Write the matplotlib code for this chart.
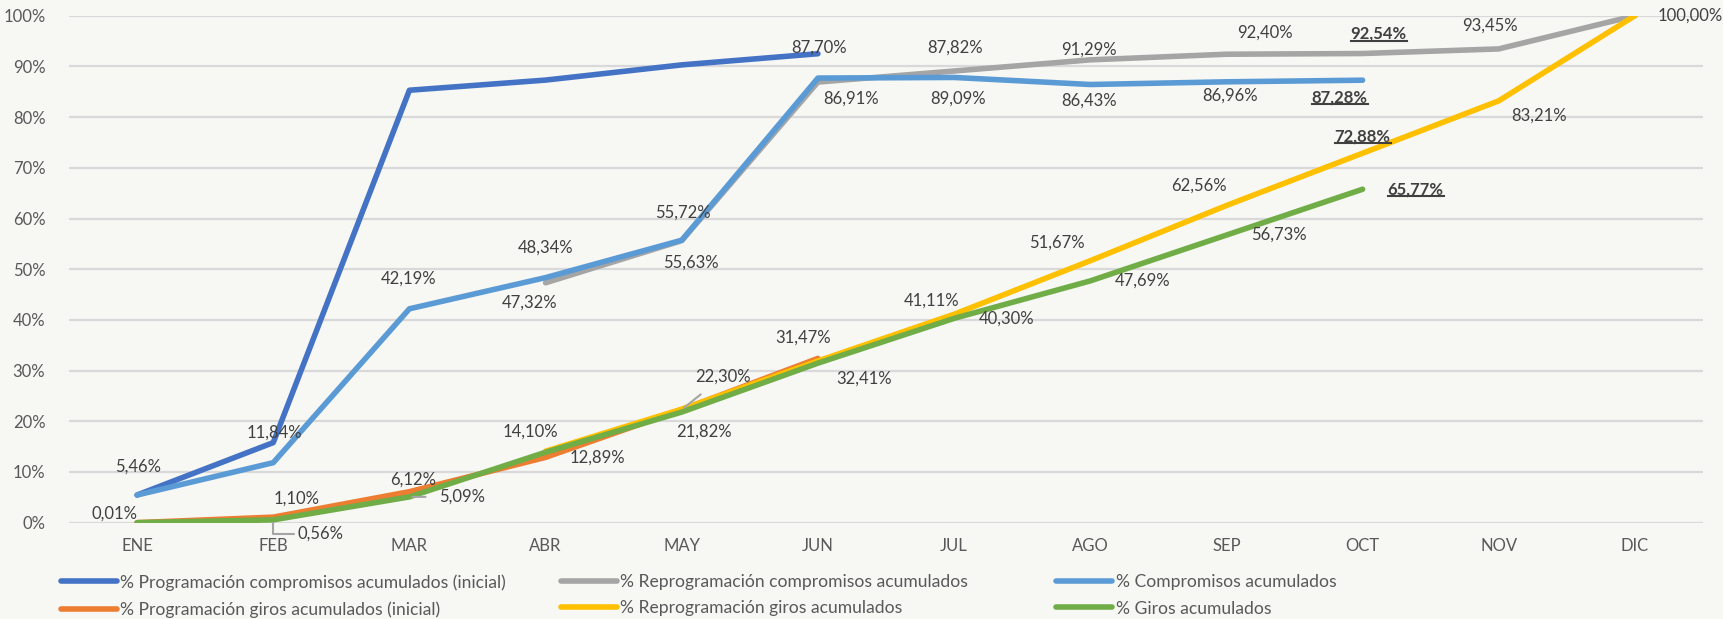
import numpy as np
import matplotlib
matplotlib.use("Agg")
import matplotlib.pyplot as plt
from matplotlib.lines import Line2D

plt.rcParams['font.family'] = ['Lato', 'DejaVu Sans']

meses = ["ENE", "FEB", "MAR", "ABR", "MAY", "JUN", "JUL", "AGO", "SEP", "OCT", "NOV", "DIC"]
nan = np.nan

prog_comp = [5.46, 15.8, 85.3, 87.3, 90.3, 92.5]
reprog_comp = [nan, nan, nan, 47.32, 55.63, 86.91, 89.09, 91.29, 92.40, 92.54, 93.45, 100.00]
comp = [5.46, 11.84, 42.19, 48.34, 55.72, 87.70, 87.82, 86.43, 86.96, 87.28]
prog_giros = [0.01, 1.10, 6.12, 12.89, 22.30, 32.41]
reprog_giros = [nan, nan, nan, 14.10, 22.40, 31.90, 41.11, 51.67, 62.56, 72.88, 83.21, 100.00]
giros = [0.01, 0.56, 5.09, 13.90, 21.82, 31.47, 40.30, 47.69, 56.73, 65.77]

series = [
    ("% Programación compromisos acumulados (inicial)", prog_comp, "#4472C4"),
    ("% Reprogramación compromisos acumulados", reprog_comp, "#A5A5A5"),
    ("% Compromisos acumulados", comp, "#5B9BD5"),
    ("% Programación giros acumulados (inicial)", prog_giros, "#ED7D31"),
    ("% Reprogramación giros acumulados", reprog_giros, "#FFC000"),
    ("% Giros acumulados", giros, "#70AD47"),
]

# data labels: (series index, month index, dx px, dy px, bold, leader)
etiquetas = [
    (2, 0, 1, 28, False, None), (2, 1, 1, 30, False, None), (2, 2, -1, 30, False, None),
    (2, 3, 0, 30, False, None), (2, 4, 1, 28, False, None), (2, 5, 1, 30, False, None),
    (2, 6, 1, 30, False, None), (2, 7, -1, -16, False, None), (2, 8, 4, -14, False, None),
    (2, 9, -23, -17, True, None),
    (1, 3, -16, -20, False, None), (1, 4, 9, -22, False, None), (1, 5, 33, -17, False, None),
    (1, 6, 4, -28, False, None), (1, 7, -1, 10, False, None), (1, 8, 39, 22, False, None),
    (1, 9, 16, 20, True, None), (1, 10, -9, 23, False, None), (1, 11, 55, 0, False, None),
    (3, 0, -23, 9, False, None), (3, 1, 23, 18, False, None), (3, 2, 4, 12, False, None),
    (3, 3, 52, 0, False, None), (3, 4, 41, 33, False, "line"), (3, 5, 46, -20, False, None),
    (4, 3, -15, 20, False, None), (4, 6, -23, 14, False, None), (4, 7, -33, 18, False, None),
    (4, 8, -27, 20, False, None), (4, 9, 0, 17, True, None), (4, 10, 40, -15, False, None),
    (5, 1, 47, -14, False, "angle"), (5, 2, 53, 0, False, "line"), (5, 4, 22, -20, False, None),
    (5, 5, -15, 26, False, None), (5, 6, 52, 0, False, None), (5, 7, 52, 0, False, None),
    (5, 8, 53, 0, False, None), (5, 9, 53, 0, True, None),
]

fig = plt.figure(figsize=(17.23, 6.19), dpi=100, facecolor="#F7F7F4")
ax = fig.add_axes([69/1723, 1-522.7/619, (1703-69)/1723, (522.7-15.7)/619])
ax.set_facecolor("#F7F7F4")

x = np.arange(len(meses))
handles = []
for nombre, vals, color in series:
    h, = ax.plot(x[:len(vals)], vals, color=color, lw=4, solid_capstyle="round",
                 solid_joinstyle="round", label=nombre, zorder=3)
    handles.append(h)

ax.set_xlim(-0.5, 11.5)
ax.set_ylim(0, 100)
ax.set_xticks(x)
ax.set_xticklabels(meses)
ax.set_yticks(np.arange(0, 101, 10))
ax.set_yticklabels([f"{v}%" for v in range(0, 101, 10)])
ax.tick_params(axis="both", length=0, labelsize=12, colors="#595959")
ax.tick_params(axis="x", pad=11)
ax.tick_params(axis="y", pad=17)
ax.grid(axis="y", color="#D9D9D9", lw=1.6, zorder=0)
for s in ax.spines.values():
    s.set_visible(False)

bold_texts = []
for si, mi, dx, dy, bold, leader in etiquetas:
    v = series[si][1][mi]
    txt = f"{v:.2f}%".replace(".", ",")
    kw = {}
    if leader == "line":
        kw["arrowprops"] = dict(arrowstyle="-", color="#A5A5A5", lw=1.5, shrinkA=8, shrinkB=2)
    elif leader == "angle":
        kw["arrowprops"] = dict(arrowstyle="-", color="#A5A5A5", lw=1.5, shrinkA=0, shrinkB=2,
                                connectionstyle="angle,angleA=0,angleB=90,rad=0",
                                relpos=(0, 0.5))
    t = ax.annotate(txt, xy=(mi, v), xytext=(dx, dy), textcoords="offset pixels",
                    ha="center", va="center", fontsize=12, color="#404040",
                    fontweight="bold" if bold else "normal", zorder=5, **kw)
    if bold:
        bold_texts.append(t)

# legend: three equal-width columns like Excel
col_x = [61, 561, 1056]
for c in range(3):
    idx = [c, c + 3]
    fig.legend([handles[i] for i in idx], [series[i][0] for i in idx],
               loc="upper left", bbox_to_anchor=(col_x[c]/1723, 1-574/619), frameon=False,
               fontsize=12.6, labelcolor="#595959", handlelength=3.2, handletextpad=0.2,
               labelspacing=0.6, borderpad=0, borderaxespad=0)

fig.canvas.draw()
for t in bold_texts:
    bb = t.get_window_extent()
    y0 = bb.y0 + 1
    fig.add_artist(Line2D([bb.x0/1723, bb.x1/1723], [y0/619, y0/619], color="#404040", lw=1.5))

fig.savefig("out.png", dpi=100, facecolor=fig.get_facecolor())
